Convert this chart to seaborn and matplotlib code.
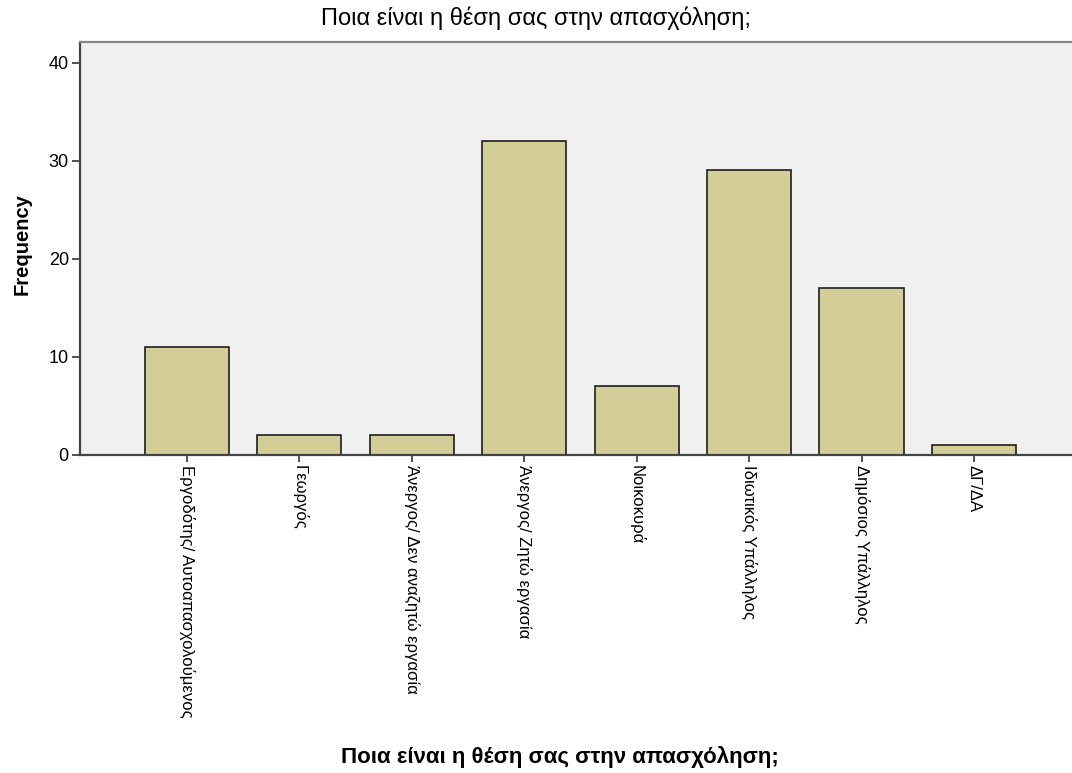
import pandas as pd
import matplotlib.pyplot as plt
import seaborn as sns

# data
categories = [
    "Εργοδότης/ Αυτοαπασχολούμενος",
    "Γεωργός",
    "Άνεργος/ Δεν αναζητώ εργασία",
    "Άνεργος/ Ζητώ εργασία",
    "Νοικοκυρά",
    "Ιδιωτικός Υπάλληλος",
    "Δημόσιος Υπάλληλος",
    "ΔΓ/ΔΑ",
]
frequency = [11, 2, 2, 32, 7, 29, 17, 1]
yticks = [0, 10, 20, 30, 40]

df = pd.DataFrame({"category": categories, "freq": frequency})

sns.set_style("ticks")
plt.rcParams["font.family"] = ["Liberation Sans", "DejaVu Sans"]
plt.rcParams["text.color"] = "black"
plt.rcParams["axes.labelcolor"] = "black"
plt.rcParams["xtick.labelcolor"] = "black"
plt.rcParams["ytick.labelcolor"] = "black"

fig = plt.figure(figsize=(10.72, 7.73), dpi=100)
ax = fig.add_axes([0.0746, 0.4114, 0.9254, 0.5343])
ax.set_facecolor("#f0f0f0")

sns.barplot(data=df, x="category", y="freq", order=categories,
            color="#d3ce97", saturation=1, width=0.75,
            edgecolor="#1e1e1e", linewidth=1.2, ax=ax)

ax.set_xlim(-0.95, 7.87)
ax.set_ylim(0, 42.1)
ax.set_yticks(yticks)
ax.set_xticks(range(len(categories)))
ax.set_xticklabels(categories, rotation=-90, ha="center", va="top", fontsize=12)
ax.tick_params(axis="y", labelsize=13, length=6, width=1.2, color="#333333", pad=2)
ax.tick_params(axis="x", length=5, width=1.2, color="#333333", pad=2)

for side in ["left", "bottom"]:
    ax.spines[side].set_color("#444444")
    ax.spines[side].set_linewidth(1.6)
ax.spines["top"].set_color("#888888")
ax.spines["top"].set_linewidth(1.6)
ax.spines["right"].set_visible(False)

fig.suptitle("Ποια είναι η θέση σας στην απασχόληση;", x=0.5, y=0.977,
             fontsize=17, va="center")
ax.set_ylabel("Frequency", fontsize=14.5, fontweight="bold", labelpad=10)
ax.yaxis.set_label_coords(-0.049, 0.51)
fig.text(0.522, 0.021, "Ποια είναι η θέση σας στην απασχόληση;", ha="center",
         va="center", fontsize=16, fontweight="bold")
ax.set_xlabel("")

fig.savefig("out.png", dpi=100)
